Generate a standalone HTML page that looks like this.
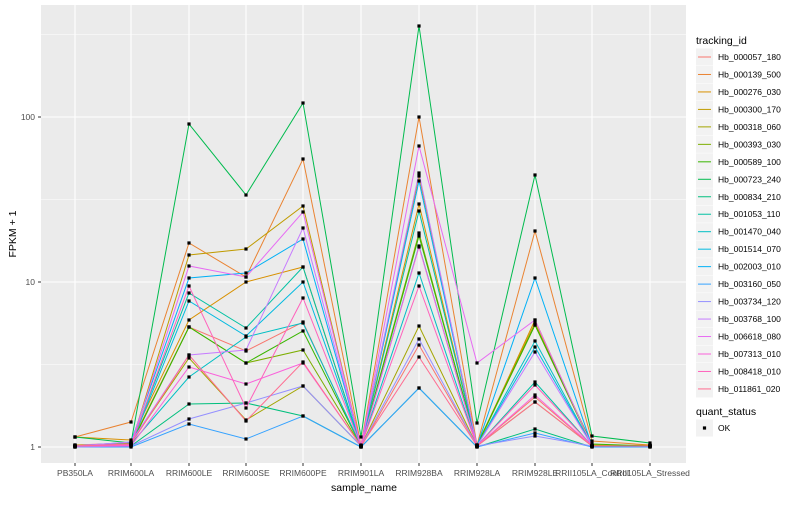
<!DOCTYPE html>
<html><head><style>body{margin:0;background:#fff}svg{font-family:"Liberation Sans",sans-serif}</style></head>
<body>
<svg id="s" width="800" height="500" xmlns="http://www.w3.org/2000/svg"></svg>
<script>
const s=document.getElementById('s');let h='';
const L=41,R=686,T=5,B=463;
h+=`<rect x="${L}" y="${T}" width="${R-L}" height="${B-T}" fill="#EBEBEB"/>`;
[364.5,199.5,34.5].forEach(y=>h+=`<line x1="${L}" x2="${R}" y1="${y}" y2="${y}" stroke="#fff" stroke-width="0.5"/>`);
[447,282,117].forEach(y=>h+=`<line x1="${L}" x2="${R}" y1="${y}" y2="${y}" stroke="#fff" stroke-width="1.1"/>`);
const X=[75,131,189,246,303,361,419,477,535,592,650];
X.forEach(x=>h+=`<line x1="${x}" x2="${x}" y1="${T}" y2="${B}" stroke="#fff" stroke-width="1.1"/>`);
const C=["#F8766D","#EA8331","#D89000","#C09B00","#A3A500","#7CAE00","#39B600","#00BB4E","#00BF7D","#00C1A3","#00BFC4","#00BAE0","#00B0F6","#35A2FF","#9590FF","#C77CFF","#E76BF3","#FA62DB","#FF62BC","#FF6C91"];
const N=["Hb_000057_180","Hb_000139_500","Hb_000276_030","Hb_000300_170","Hb_000318_060","Hb_000393_030","Hb_000589_100","Hb_000723_240","Hb_000834_210","Hb_001053_110","Hb_001470_040","Hb_001514_070","Hb_002003_010","Hb_003160_050","Hb_003734_120","Hb_003768_100","Hb_006618_080","Hb_007313_010","Hb_008418_010","Hb_011861_020"];
const D=[
[445,443,327,351,322,447,345,446,397,446,446],
[437,422,243,277,159,445,117,445,231,441,445],
[437,440,320,282,267,446,204,446,320,446,445],
[445,445,255,249,206,446,176,445,323,445,446],
[446,443,358,420,386,446,326,446,402,446,446],
[446,444,327,363,350,446,233,446,325,446,446],
[446,445,327,363,331,446,236,445,325,444,446],
[437,443,124,195,103,437,26,423,175,436,443],
[447,446,404,403,416,447,388,447,429,447,447],
[446,444,293,328,267,446,211,446,382,446,446],
[446,444,377,337,323,446,273,446,341,446,446],
[446,445,301,336,282,446,246,446,347,446,446],
[446,442,278,273,239,446,181,446,278,446,446],
[447,447,424,439,416,447,388,447,433,447,447],
[447,446,419,403,386,446,339,446,436,446,446],
[446,442,355,350,228,446,173,446,352,446,446],
[446,444,266,277,212,446,146,363,320,446,446],
[446,446,367,384,363,446,247,446,395,446,446],
[446,445,286,408,298,446,286,446,385,446,446],
[446,444,355,421,362,446,357,446,402,446,446]];
D.forEach((d,i)=>{h+=`<polyline fill="none" stroke="${C[i]}" stroke-width="1" points="${d.map((y,j)=>X[j]+','+y).join(' ')}"/>`;});
D.forEach(d=>d.forEach((y,j)=>h+=`<rect x="${X[j]-1.6}" y="${y-1.6}" width="3.2" height="3.2" fill="#000"/>`));
[[447,"1"],[282,"10"],[117,"100"]].forEach(([y,t])=>{h+=`<text x="35" y="${y+3}" font-size="8.5" fill="#4D4D4D" text-anchor="end">${t}</text><line x1="38" x2="41" y1="${y}" y2="${y}" stroke="#333"/>`});
const XL=["PB350LA","RRIM600LA","RRIM600LE","RRIM600SE","RRIM600PE","RRIM901LA","RRIM928BA","RRIM928LA","RRIM928LE","RRII105LA_Control","RRII105LA_Stressed"];
X.forEach((x,i)=>h+=`<line x1="${x}" x2="${x}" y1="463" y2="466" stroke="#333"/><text x="${x}" y="476" font-size="8.5" fill="#4D4D4D" text-anchor="middle">${XL[i]}</text>`);
h+=`<text x="364" y="491" font-size="10.5" text-anchor="middle">sample_name</text>`;
h+=`<text transform="translate(16,234) rotate(-90)" font-size="10.5" text-anchor="middle">FPKM + 1</text>`;
h+=`<text x="696" y="44" font-size="10.5">tracking_id</text>`;
N.forEach((n,i)=>{const y=57+i*17.47;h+=`<rect x="696" y="${y-8.5}" width="17" height="17" fill="#F2F2F2"/><line x1="698" x2="711" y1="${y}" y2="${y}" stroke="${C[i]}"/><text x="718" y="${y+3}" font-size="8.5">${n}</text>`});
h+=`<text x="696" y="415" font-size="10.5">quant_status</text><rect x="696" y="419.5" width="17" height="17" fill="#F2F2F2"/><rect x="702.9" y="426.4" width="3.2" height="3.2" fill="#000"/><text x="718" y="431" font-size="8.5">OK</text>`;
s.innerHTML=h;
</script>
</body></html>
